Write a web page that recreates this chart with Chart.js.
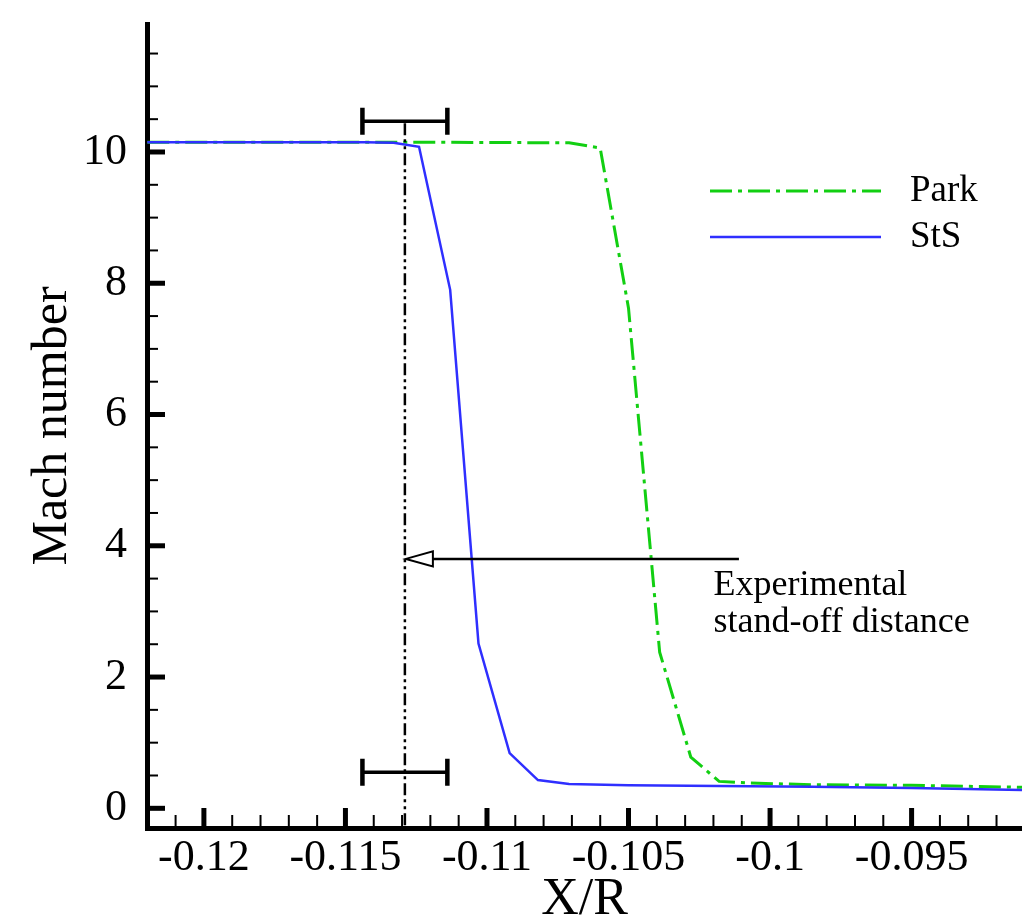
<!DOCTYPE html>
<html>
<head>
<meta charset="utf-8">
<title>Mach number along the stagnation line</title>
<script src="https://cdn.jsdelivr.net/npm/chart.js@4.4.0/dist/chart.umd.min.js"></script>
<style>
  html, body { margin: 0; padding: 0; background: #fff; }
  canvas { display: block; }
</style>
</head>
<body>
<canvas id="machChart" width="1022" height="923"></canvas>
<script>
// Mach number along X/R
const parkX = [-0.1220, -0.1133, -0.1071, -0.1060, -0.1050, -0.1039, -0.1028, -0.1018, -0.1007, -0.0985, -0.0950, -0.0911];
const parkMach = [10.15, 10.15, 10.14, 10.06, 7.62, 2.38, 0.78, 0.41, 0.385, 0.36, 0.35, 0.32];

const stsX = [-0.1220, -0.1143, -0.1133, -0.1124, -0.1113, -0.1103, -0.1092, -0.1082, -0.1071, -0.1050, -0.1018, -0.0985, -0.0950, -0.0911];
const stsMach = [10.15, 10.15, 10.14, 10.08, 7.90, 2.51, 0.84, 0.43, 0.37, 0.35, 0.34, 0.33, 0.31, 0.28];

const seriesNames = ['Park', 'StS'];

// axis ranges and tick spacing
const xRange = [-0.12201, -0.0911];
const yRange = [-0.3, 11.95];
const xStep = 0.005, xMinor = 0.001;
const yStep = 2, yMinor = 0.5;

// experimental stand-off distance with its error bars
const standOffX = -0.1129;
const standOffErr = [-0.1144, -0.1114];
const errBarMach = [0.55, 10.47];
const arrowMach = 3.8;
const arrowTailX = -0.1011;
const noteX = -0.1020;
const noteMach = 3.25;
const noteLines = ['Experimental', 'stand-off distance'];

const serif = '"Liberation Serif", "Times New Roman", serif';

// draws inward ticks, the stand-off marker and the legend
const decorations = {
    id: 'decorations',
    afterDraw(chart) {
        const { ctx, chartArea: area, scales: { x, y } } = chart;
        ctx.save();
        ctx.strokeStyle = '#000';
        ctx.lineCap = 'butt';

        // x ticks, pointing up into the plot
        for (let k = Math.ceil(xRange[0] / xMinor - 1e-9); k <= Math.floor(xRange[1] / xMinor + 1e-9); k++) {
            const major = k % 5 === 0;
            const px = x.getPixelForValue(k * xMinor);
            ctx.lineWidth = major ? 5 : 2;
            ctx.beginPath();
            ctx.moveTo(px, area.bottom);
            ctx.lineTo(px, area.bottom - (major ? 20 : 13));
            ctx.stroke();
        }
        // y ticks, pointing right
        for (let k = Math.ceil(yRange[0] / yMinor); k <= Math.floor(yRange[1] / yMinor); k++) {
            const major = k % 4 === 0;
            const py = y.getPixelForValue(k * yMinor);
            ctx.lineWidth = major ? 5 : 2;
            ctx.beginPath();
            ctx.moveTo(area.left, py);
            ctx.lineTo(area.left + (major ? 18 : 11), py);
            ctx.stroke();
        }

        // vertical line at the measured stand-off distance
        const sx = x.getPixelForValue(standOffX);
        ctx.lineWidth = 2.5;
        ctx.setLineDash([12, 4, 3, 4, 3, 4]);
        ctx.beginPath();
        ctx.moveTo(sx, y.getPixelForValue(errBarMach[1]) + 2);
        ctx.lineTo(sx, area.bottom);
        ctx.stroke();
        ctx.setLineDash([]);

        // error bars
        const e0 = x.getPixelForValue(standOffErr[0]);
        const e1 = x.getPixelForValue(standOffErr[1]);
        errBarMach.forEach(m => {
            const py = y.getPixelForValue(m);
            ctx.lineWidth = 3.5;
            ctx.beginPath();
            ctx.moveTo(e0, py);
            ctx.lineTo(e1, py);
            ctx.stroke();
            ctx.lineWidth = 4.5;
            ctx.beginPath();
            ctx.moveTo(e0, py - 13.5);
            ctx.lineTo(e0, py + 13.5);
            ctx.moveTo(e1, py - 13.5);
            ctx.lineTo(e1, py + 13.5);
            ctx.stroke();
        });

        // arrow pointing at the stand-off line
        const ay = y.getPixelForValue(arrowMach);
        const tail = x.getPixelForValue(arrowTailX);
        ctx.lineWidth = 2.5;
        ctx.beginPath();
        ctx.moveTo(tail, ay);
        ctx.lineTo(sx + 28, ay);
        ctx.stroke();
        ctx.lineWidth = 2;
        ctx.fillStyle = '#fff';
        ctx.beginPath();
        ctx.moveTo(sx + 1, ay);
        ctx.lineTo(sx + 28, ay - 7.5);
        ctx.lineTo(sx + 28, ay + 7.5);
        ctx.closePath();
        ctx.fill();
        ctx.stroke();

        // note text
        ctx.fillStyle = '#000';
        ctx.font = '36px ' + serif;
        ctx.textAlign = 'left';
        ctx.textBaseline = 'alphabetic';
        const nx = x.getPixelForValue(noteX);
        const ny = y.getPixelForValue(noteMach);
        noteLines.forEach((line, i) => ctx.fillText(line, nx, ny + i * 37));

        // legend
        ctx.font = '37px ' + serif;
        ctx.textBaseline = 'middle';
        chart.data.datasets.forEach((ds, i) => {
            const ly = 191 + i * 46;
            ctx.strokeStyle = ds.borderColor;
            ctx.lineWidth = ds.borderWidth;
            ctx.setLineDash(ds.borderDash || []);
            ctx.beginPath();
            ctx.moveTo(710, ly);
            ctx.lineTo(881, ly);
            ctx.stroke();
            ctx.setLineDash([]);
            ctx.fillStyle = '#000';
            ctx.fillText(ds.label, 910, ly);
        });
        ctx.restore();
    }
};

const toPoints = (xs, ys) => xs.map((v, i) => ({ x: v, y: ys[i] }));

new Chart(document.getElementById('machChart'), {
    type: 'line',
    data: {
        datasets: [
            {
                label: seriesNames[0],
                data: toPoints(parkX, parkMach),
                borderColor: '#12cf12',
                borderWidth: 3,
                borderDash: [22, 6, 4, 6],
                pointRadius: 0,
                tension: 0,
                order: 2
            },
            {
                label: seriesNames[1],
                data: toPoints(stsX, stsMach),
                borderColor: '#2f2fff',
                borderWidth: 2.5,
                pointRadius: 0,
                tension: 0,
                order: 1
            }
        ]
    },
    options: {
        responsive: false,
        animation: false,
        layout: { padding: { top: 24, left: 0, right: 0, bottom: 0 } },
        plugins: {
            legend: { display: false },
            tooltip: { enabled: false }
        },
        scales: {
            x: {
                type: 'linear',
                min: xRange[0],
                max: xRange[1],
                afterFit: s => { s.height = 95; s.paddingLeft = 0; s.paddingRight = 0; },
                grid: { display: false, drawTicks: false },
                border: { display: true, color: '#000', width: 5 },
                ticks: {
                    stepSize: xStep,
                    includeBounds: false,
                    autoSkip: false,
                    maxRotation: 0,
                    padding: 4,
                    color: '#000',
                    font: { family: serif, size: 44, lineHeight: 1.2 },
                    callback: v => parseFloat(v.toFixed(3)).toString()
                },
                title: {
                    display: true,
                    text: 'X/R',
                    color: '#000',
                    font: { family: serif, size: 52, lineHeight: 1 },
                    padding: { top: 0, bottom: -3 }
                }
            },
            y: {
                min: yRange[0],
                max: yRange[1],
                afterFit: s => { s.width = 147; s.paddingTop = 0; s.paddingBottom = 0; },
                grid: { display: false, drawTicks: false },
                border: { display: true, color: '#000', width: 5 },
                ticks: {
                    stepSize: yStep,
                    includeBounds: false,
                    padding: 20,
                    color: '#000',
                    font: { family: serif, size: 44, lineHeight: 1.2 },
                    callback: v => String(v)
                },
                title: {
                    display: true,
                    text: 'Mach number',
                    color: '#000',
                    font: { family: serif, size: 50, lineHeight: 1 },
                    padding: { top: 28, bottom: 0 }
                }
            }
        }
    },
    plugins: [decorations]
});
</script>
</body>
</html>
